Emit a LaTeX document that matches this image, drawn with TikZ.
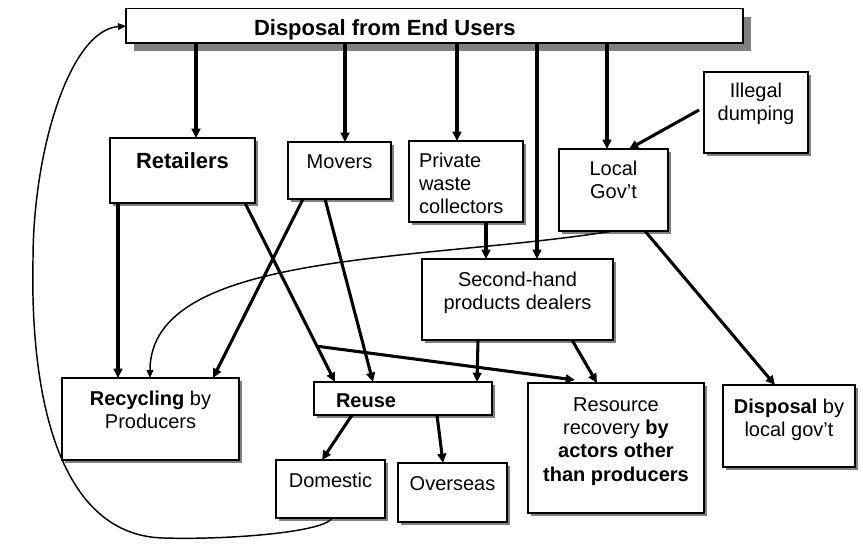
\documentclass[tikz,border=0pt]{standalone}
\usepackage{fontspec}
\setmainfont{Liberation Sans}
\usetikzlibrary{arrows.meta,calc,shadows}
\newlength\px \setlength\px{0.75pt}
\newcommand{\btext}[4]{\parbox[t][#2\px][t]{#1\px}{\centering\rule{0pt}{#3\px}#4}}
\begin{document}
\begin{tikzpicture}[x=0.75pt,y=-0.75pt,
  box/.style={draw,line width=0.8pt,fill=white,anchor=north west,inner sep=0pt,outer sep=0pt,
    font=\fontsize{15}{17.6}\selectfont},
  shbox/.style={box,drop shadow={shadow xshift=2.2pt,shadow yshift=-2.2pt,fill=black!50,opacity=1}},
  arr/.style={line width=2.3pt,-{Triangle[length=7pt,width=6.5pt]}},
  thinarr/.style={line width=1.1pt,-{Triangle[length=6pt,width=5pt]}}]
\useasboundingbox (0,0) rectangle (863,544);
\node[box,line width=1.2pt,drop shadow={shadow xshift=6pt,shadow yshift=-6pt,fill=black!50,opacity=1}] (users) at (126,8.5)
  {\btext{617}{34.5}{26.5}{\raggedright\leftskip=128\px\fontsize{16.5}{19}\selectfont\bfseries Disposal from End Users}};
\node[shbox] (ret) at (110,138) {\btext{145}{65}{30}{\fontsize{16.5}{19}\selectfont\bfseries Retailers}};
\node[shbox] (mov) at (288,142) {\btext{103}{57}{26}{Movers}};
\node[shbox] (pri) at (409,141) {\btext{114}{81}{26}{\raggedright\leftskip=10\px Private\\waste\\collectors}};
\node[shbox] (lgov) at (559,149) {\btext{109}{82}{26}{Local\\Gov’t}};
\node[shbox] (ill) at (704,72) {\btext{104}{81}{25}{Illegal\\dumping}};
\node[shbox] (sec) at (422,259) {\btext{191}{81}{27}{Second-hand\\products dealers}};
\node[shbox] (rec) at (62,378) {\btext{177}{82}{27}{\textbf{Recycling} by\\Producers}};
\node[shbox] (reuse) at (314,382) {\btext{178}{33}{25}{\raggedright\leftskip=22\px\bfseries Reuse}};
\node[shbox] (dom) at (276,460) {\btext{109}{58}{27}{Domestic}};
\node[shbox] (ovs) at (398,463) {\btext{109}{59}{27}{Overseas}};
\node[shbox] (res) at (528,383) {\btext{176}{130}{28}{Resource\\recovery \textbf{by}\\\textbf{actors other}\\\textbf{than producers}}};
\node[shbox] (dis) at (723,385) {\btext{132}{82}{28}{\textbf{Disposal} by\\local gov’t}};
% flows
\foreach \a/\n/\b in {70/ret/86,219/mov/57,331/pri/48,411/sec/115,481/lgov/48}
  \draw[arr] ($(users.south west)+(\a,0)$) -- ($(\n.north west)+(\b,0)$);
\draw[arr] ($(ill.north west)+(-5,38)$) -- ($(lgov.north west)+(70,0)$);
\draw[arr] ($(pri.south west)+(77,0)$) -- ($(sec.north west)+(64,0)$);
\draw[thinarr] ($(lgov.south west)+(54,0)$) .. controls (420,262) and (150,250) .. ($(rec.north west)+(88,0)$);
\draw[arr] ($(ret.south west)+(8,0)$) -- ($(rec.north west)+(56,0)$);
\draw[arr] ($(ret.south east)+(-10,0)$) -- coordinate[pos=.8] (fork) ($(reuse.north west)+(21,0)$);
\draw[arr] (fork) -- ($(res.north west)+(47,-3)$);
\draw[arr] ($(mov.south west)+(15,0)$) -- ($(rec.north west)+(151,0)$);
\draw[arr] ($(mov.south west)+(37,0)$) -- ($(reuse.north west)+(59,0)$);
\draw[arr] ($(sec.south west)+(56,0)$) -- ($(reuse.north west)+(163,0)$);
\draw[arr] ($(sec.south west)+(150,0)$) -- ($(res.north west)+(69,0)$);
\draw[arr] ($(lgov.south west)+(86,0)$) -- ($(dis.north west)+(52,0)$);
\draw[arr] ($(reuse.south west)+(38,0)$) -- ($(dom.north west)+(46,0)$);
\draw[arr] ($(reuse.south west)+(123,0)$) -- ($(ovs.north west)+(45,0)$);
\draw[thinarr] ($(dom.south west)+(56,0)$) .. controls (325,532) and (230,540) .. (163,538)
  .. controls (60,535) and (30,400) .. (33,260) .. controls (33,150) and (70,30) .. ($(users.north west)+(0,17.5)$);
\end{tikzpicture}
\end{document}
